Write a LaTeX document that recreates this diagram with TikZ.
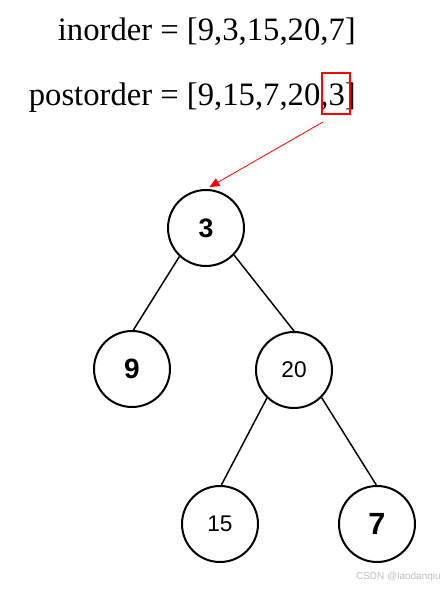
\documentclass[tikz,border=0pt]{standalone}
\usepackage{fontspec}
\setmainfont{Liberation Serif}
\newfontfamily\arialfont{Liberation Sans}
\usetikzlibrary{arrows.meta}

\begin{document}
\begin{tikzpicture}[
  x=0.75pt, y=-0.75pt,
  seq/.style={
    font=\fontsize{24.5pt}{28pt}\selectfont, inner sep=0pt, anchor=base east
  },
  tnode/.style={
    draw, circle, line width=1.5pt, minimum size=57pt, inner sep=0pt,
    font=\arialfont\fontsize{#1}{#1}\selectfont
  },
  edge/.style={
    line width=1.1pt
  }
]
\useasboundingbox (0,0) rectangle (448,589);

% traversal sequences
\node[seq] (ino) at (356,40) {inorder = [9,3,15,20,7]};
\node[seq] (post) at (356,105) {postorder = [9,15,7,20,3]};

% last element of postorder marks the root
\node[draw=red, line width=1.5pt, minimum width=21pt, minimum height=30.75pt,
  inner sep=0pt] (last) at (336,93.5) {};
\coordinate (from) at (323,122);

% tree
\node[tnode=20pt] (n3) at (206,228) {\bfseries 3};
\node[tnode=21pt] (n9) at (132,369) {\bfseries 9};
\node[tnode=17pt] (n20) at (294,370) {20};
\node[tnode=17pt] (n15) at (220,524) {15};
\node[tnode=23pt] (n7) at (377,524) {\bfseries 7};

\draw[edge] (n3.227) -- (n9.88);
\draw[edge] (n3.316) -- (n20.90);
\draw[edge] (n20.226) -- (n15.88);
\draw[edge] (n20.315) -- (n7.91);

\draw[red, line width=0.6pt, -{Triangle[length=7.5pt,width=6.5pt]}] (from) -- ([yshift=1.5pt]n3.85);

% watermark
\node[font=\arialfont\fontsize{7.5pt}{8pt}\selectfont, text=black!25, anchor=east,
  inner sep=0pt] (mark) at (441,577) {CSDN @laodanqiu};
\end{tikzpicture}
\end{document}
